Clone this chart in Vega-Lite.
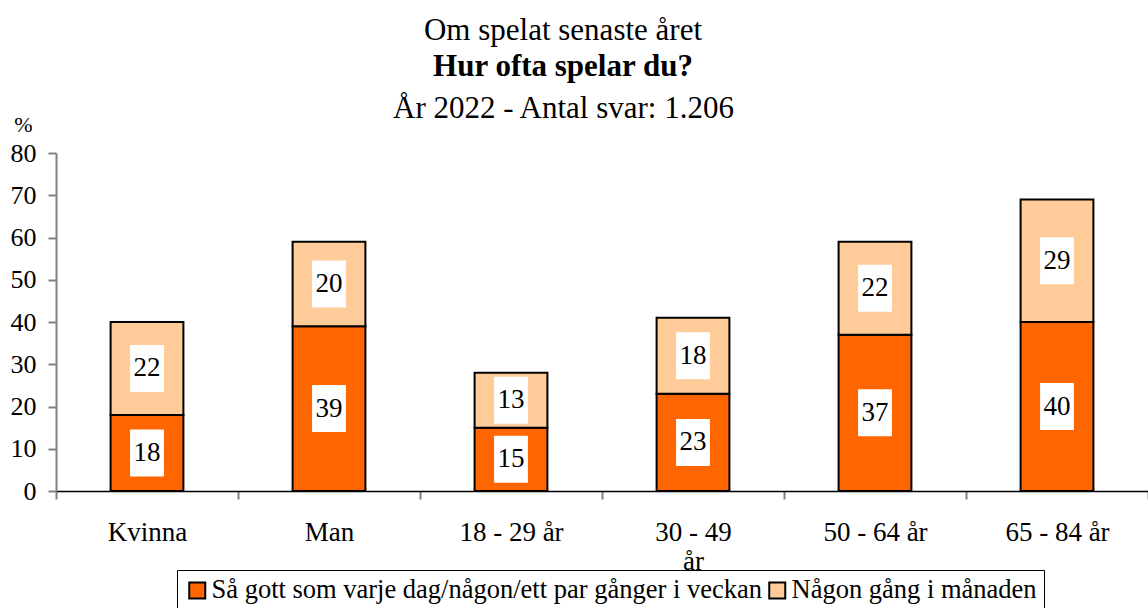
{
  "$schema": "https://vega.github.io/schema/vega-lite/v6.json",
  "width": 1092,
  "height": 338,
  "autosize": {"type": "none"},
  "padding": {"left": 56, "top": 153, "right": 0, "bottom": 117},
  "background": "white",
  "config": {"view": {"stroke": null}, "font": "Liberation Serif"},
  "title": {
    "text": "Om spelat senaste året",
    "subtitle": "Hur ofta spelar du?",
    "font": "Liberation Serif",
    "subtitleFont": "Liberation Serif",
    "fontSize": 31,
    "fontWeight": "normal",
    "color": "black",
    "subtitleFontSize": 31,
    "subtitleFontWeight": "bold",
    "subtitleColor": "black",
    "subtitlePadding": 5,
    "anchor": "middle",
    "frame": "group",
    "dx": -39,
    "offset": 9
  },
  "data": {
    "values": [
      {"grupp": "Kvinna", "serie": "Så gott som varje dag/någon/ett par gånger i veckan", "k": 1, "andel": 18},
      {"grupp": "Kvinna", "serie": "Någon gång i månaden", "k": 2, "andel": 22},
      {"grupp": "Man", "serie": "Så gott som varje dag/någon/ett par gånger i veckan", "k": 1, "andel": 39},
      {"grupp": "Man", "serie": "Någon gång i månaden", "k": 2, "andel": 20},
      {"grupp": "18 - 29 år", "serie": "Så gott som varje dag/någon/ett par gånger i veckan", "k": 1, "andel": 15},
      {"grupp": "18 - 29 år", "serie": "Någon gång i månaden", "k": 2, "andel": 13},
      {"grupp": "30 - 49 år", "serie": "Så gott som varje dag/någon/ett par gånger i veckan", "k": 1, "andel": 23},
      {"grupp": "30 - 49 år", "serie": "Någon gång i månaden", "k": 2, "andel": 18},
      {"grupp": "50 - 64 år", "serie": "Så gott som varje dag/någon/ett par gånger i veckan", "k": 1, "andel": 37},
      {"grupp": "50 - 64 år", "serie": "Någon gång i månaden", "k": 2, "andel": 22},
      {"grupp": "65 - 84 år", "serie": "Så gott som varje dag/någon/ett par gånger i veckan", "k": 1, "andel": 40},
      {"grupp": "65 - 84 år", "serie": "Någon gång i månaden", "k": 2, "andel": 29}
    ]
  },
  "layer": [
    {
      "mark": {"type": "bar", "stroke": "black", "strokeWidth": 2, "width": {"band": 0.4}},
      "encoding": {
        "x": {
          "field": "grupp", "type": "nominal", "sort": null,
          "scale": {"paddingInner": 0, "paddingOuter": 0},
          "axis": {
            "title": null, "labelAngle": 0, "labelFontSize": 27, "labelColor": "black",
            "labelFont": "Liberation Serif", "domainColor": "black", "domainWidth": 1.5,
            "tickColor": "#808080", "tickSize": 8, "tickWidth": 2, "tickBand": "extent",
            "labelPadding": 41, "labelBaseline": "alphabetic", "labelLineHeight": 29,
            "labelExpr": "datum.label == '30 - 49 år' ? ['30 - 49', 'år'] : datum.label"
          }
        },
        "y": {
          "field": "andel", "type": "quantitative", "stack": "zero",
          "scale": {"domain": [0, 80]},
          "axis": {
            "title": "%", "titleAngle": 0, "titleX": -33, "titleY": -29,
            "titleAlign": "center", "titleBaseline": "middle", "titleFontSize": 22,
            "titleFontWeight": "normal", "titleColor": "black", "titleFont": "Liberation Serif",
            "values": [0, 10, 20, 30, 40, 50, 60, 70, 80],
            "grid": false, "domainColor": "#808080", "domainWidth": 2,
            "tickColor": "#808080", "tickSize": 8, "tickWidth": 2,
            "labelFontSize": 26, "labelColor": "black", "labelPadding": 12,
            "labelFont": "Liberation Serif"
          }
        },
        "order": {"field": "k", "type": "quantitative"},
        "color": {
          "field": "serie", "type": "nominal",
          "scale": {
            "domain": ["Så gott som varje dag/någon/ett par gånger i veckan", "Någon gång i månaden"],
            "range": ["#FF6600", "#FFCC99"]
          },
          "legend": {
            "title": null, "orient": "none", "legendX": 121, "legendY": 417,
            "direction": "horizontal", "columns": 2, "strokeColor": "black",
            "padding": 7, "labelFontSize": 26.5, "labelColor": "black",
            "labelFont": "Liberation Serif", "labelLimit": 800,
            "symbolType": "square", "symbolSize": 256,
            "symbolStrokeColor": "black", "symbolStrokeWidth": 2,
            "symbolOpacity": 1, "labelOffset": 1, "columnPadding": 2
          }
        }
      }
    },
    {
      "mark": {"type": "point", "shape": "M-0.72,-1H0.72V1H-0.72Z", "filled": true, "fill": "white", "strokeWidth": 0, "opacity": 1, "size": 2209},
      "encoding": {
        "x": {"field": "grupp", "type": "nominal", "sort": null, "axis": null},
        "y": {
          "field": "andel", "type": "quantitative", "stack": "zero", "bandPosition": 0.5,
          "axis": {
            "title": "%", "titleAngle": 0, "titleX": -33, "titleY": -29,
            "titleAlign": "center", "titleBaseline": "middle", "titleFontSize": 22,
            "titleFontWeight": "normal", "titleColor": "black", "titleFont": "Liberation Serif",
            "values": [0, 10, 20, 30, 40, 50, 60, 70, 80],
            "grid": false, "domainColor": "#808080", "domainWidth": 2,
            "tickColor": "#808080", "tickSize": 8, "tickWidth": 2,
            "labelFontSize": 26, "labelColor": "black", "labelPadding": 12,
            "labelFont": "Liberation Serif"
          }
        },
        "order": {"field": "k", "type": "quantitative"},
        "detail": {"field": "serie"}
      }
    },
    {
      "mark": {"type": "text", "fontSize": 27, "color": "black", "font": "Liberation Serif", "baseline": "middle"},
      "encoding": {
        "x": {
          "field": "grupp", "type": "nominal", "sort": null,
          "axis": {
            "orient": "top", "title": "År 2022 - Antal svar: 1.206", "labels": false,
            "ticks": false, "domain": false, "titleFontSize": 31, "titleFontWeight": "normal",
            "titleColor": "black", "titleFont": "Liberation Serif", "titleX": 507, "titleY": -45,
            "titleAlign": "center", "titleBaseline": "middle"
          }
        },
        "y": {
          "field": "andel", "type": "quantitative", "stack": "zero", "bandPosition": 0.5,
          "axis": {
            "title": "%", "titleAngle": 0, "titleX": -33, "titleY": -29,
            "titleAlign": "center", "titleBaseline": "middle", "titleFontSize": 22,
            "titleFontWeight": "normal", "titleColor": "black", "titleFont": "Liberation Serif",
            "values": [0, 10, 20, 30, 40, 50, 60, 70, 80],
            "grid": false, "domainColor": "#808080", "domainWidth": 2,
            "tickColor": "#808080", "tickSize": 8, "tickWidth": 2,
            "labelFontSize": 26, "labelColor": "black", "labelPadding": 12,
            "labelFont": "Liberation Serif"
          }
        },
        "order": {"field": "k", "type": "quantitative"},
        "detail": {"field": "serie"},
        "text": {"field": "andel", "type": "quantitative"}
      }
    }
  ],
  "resolve": {"axis": {"x": "independent"}}
}
